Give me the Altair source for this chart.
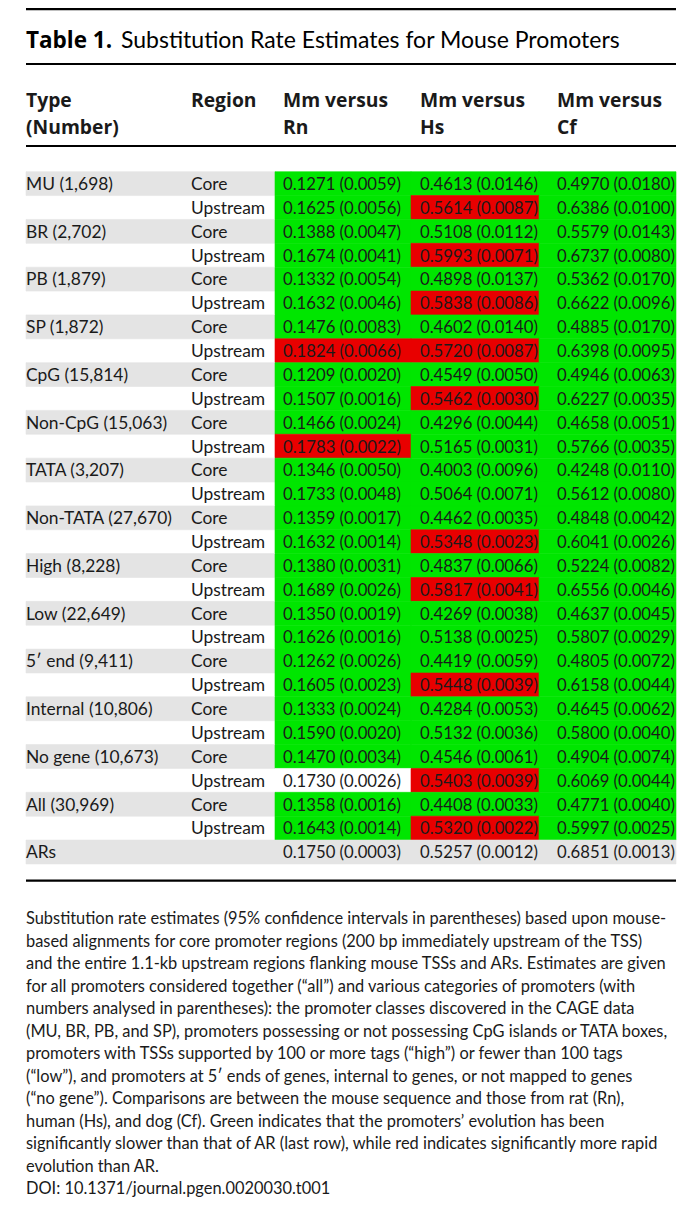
import altair as alt
import pandas as pd

# ---------------- data ----------------
types = ["MU (1,698)", "BR (2,702)", "PB (1,879)", "SP (1,872)", "CpG (15,814)",
         "Non-CpG (15,063)", "TATA (3,207)", "Non-TATA (27,670)", "High (8,228)",
         "Low (22,649)", "5\u2032 end (9,411)", "Internal (10,806)",
         "No gene (10,673)", "All (30,969)"]
regions = ["Core", "Upstream"]
last_row = "ARs"

rn_est = [0.1271, 0.1625, 0.1388, 0.1674, 0.1332, 0.1632, 0.1476, 0.1824, 0.1209, 0.1507,
          0.1466, 0.1783, 0.1346, 0.1733, 0.1359, 0.1632, 0.1380, 0.1689, 0.1350, 0.1626,
          0.1262, 0.1605, 0.1333, 0.1590, 0.1470, 0.1730, 0.1358, 0.1643, 0.1750]
rn_ci = [0.0059, 0.0056, 0.0047, 0.0041, 0.0054, 0.0046, 0.0083, 0.0066, 0.0020, 0.0016,
         0.0024, 0.0022, 0.0050, 0.0048, 0.0017, 0.0014, 0.0031, 0.0026, 0.0019, 0.0016,
         0.0026, 0.0023, 0.0024, 0.0020, 0.0034, 0.0026, 0.0016, 0.0014, 0.0003]
hs_est = [0.4613, 0.5614, 0.5108, 0.5993, 0.4898, 0.5838, 0.4602, 0.5720, 0.4549, 0.5462,
          0.4296, 0.5165, 0.4003, 0.5064, 0.4462, 0.5348, 0.4837, 0.5817, 0.4269, 0.5138,
          0.4419, 0.5448, 0.4284, 0.5132, 0.4546, 0.5403, 0.4408, 0.5320, 0.5257]
hs_ci = [0.0146, 0.0087, 0.0112, 0.0071, 0.0137, 0.0086, 0.0140, 0.0087, 0.0050, 0.0030,
         0.0044, 0.0031, 0.0096, 0.0071, 0.0035, 0.0023, 0.0066, 0.0041, 0.0038, 0.0025,
         0.0059, 0.0039, 0.0053, 0.0036, 0.0061, 0.0039, 0.0033, 0.0022, 0.0012]
cf_est = [0.4970, 0.6386, 0.5579, 0.6737, 0.5362, 0.6622, 0.4885, 0.6398, 0.4946, 0.6227,
          0.4658, 0.5766, 0.4248, 0.5612, 0.4848, 0.6041, 0.5224, 0.6556, 0.4637, 0.5807,
          0.4805, 0.6158, 0.4645, 0.5800, 0.4904, 0.6069, 0.4771, 0.5997, 0.6851]
cf_ci = [0.0180, 0.0100, 0.0143, 0.0080, 0.0170, 0.0096, 0.0170, 0.0095, 0.0063, 0.0035,
         0.0051, 0.0035, 0.0110, 0.0080, 0.0042, 0.0026, 0.0082, 0.0046, 0.0045, 0.0029,
         0.0072, 0.0044, 0.0062, 0.0040, 0.0074, 0.0044, 0.0040, 0.0025, 0.0013]

# significance vs AR: g = slower (green), r = faster (red), w = not significant, n = reference row
rn_sig = list("gggggggrgggrgggggggggggggwgg") + ["n"]
hs_sig = list("grgrgrgrgrggggg" "rgrgggrgggrgr") + ["n"]
cf_sig = list("gggggggggggggggggggggggggggg") + ["n"]

title_bold = "Table 1."
title_text = "Substitution Rate Estimates for Mouse Promoters"
header_line1 = ["Type", "Region", "Mm versus", "Mm versus", "Mm versus"]
header_line2 = ["(Number)", "", "Rn", "Hs", "Cf"]

footnote = [
    "Substitution rate estimates (95% confidence intervals in parentheses) based upon mouse-",
    "based alignments for core promoter regions (200 bp immediately upstream of the TSS)",
    "and the entire 1.1-kb upstream regions flanking mouse TSSs and ARs. Estimates are given",
    "for all promoters considered together (\u201call\u201d) and various categories of promoters (with",
    "numbers analysed in parentheses): the promoter classes discovered in the CAGE data",
    "(MU, BR, PB, and SP), promoters possessing or not possessing CpG islands or TATA boxes,",
    "promoters with TSSs supported by 100 or more tags (\u201chigh\u201d) or fewer than 100 tags",
    "(\u201clow\u201d), and promoters at 5\u2032 ends of genes, internal to genes, or not mapped to genes",
    "(\u201cno gene\u201d). Comparisons are between the mouse sequence and those from rat (Rn),",
    "human (Hs), and dog (Cf). Green indicates that the promoters\u2019 evolution has been",
    "significantly slower than that of AR (last row), while red indicates significantly more rapid",
    "evolution than AR.",
    "DOI: 10.1371/journal.pgen.0020030.t001",
]

# ---------------- layout / style ----------------
FONT = "Lato"
BOLD_FONT = "Open Sans"
TXT = "#1a1a1a"
W, H = 680, 1190
n_rows = len(types) * 2 + 1

edge_scale = alt.Scale(domain=[0, 1, 2, 3, 4], range=[18, 267, 403, 531, 668], nice=False, zero=False)
col_scale = alt.Scale(domain=[0, 1, 2, 3, 4], range=[18, 183, 275, 412, 549], nice=False, zero=False)
row_text_scale = alt.Scale(domain=[0, n_rows - 1], range=[182, 850.3], nice=False, zero=False)
row_edge_scale = alt.Scale(domain=[0, n_rows], range=[163.7, 163.7 + n_rows * 23.87], nice=False, zero=False)

# ---------------- build tables ----------------
def fmt(e, c):
    return f"{e:.4f} ({c:.4f})"

cells = []
rects = []
for i in range(n_rows):
    if i < n_rows - 1:
        t = types[i // 2] if i % 2 == 0 else ""
        reg = regions[i % 2]
    else:
        t, reg = last_row, ""
    vals = [fmt(rn_est[i], rn_ci[i]), fmt(hs_est[i], hs_ci[i]), fmt(cf_est[i], cf_ci[i])]
    for c, s in enumerate([t, reg] + vals):
        if s:
            cells.append({"row": i, "col": c, "label": s, "kind": "label" if c < 2 else "num"})
    if i == n_rows - 1:
        rects.append({"r0": i, "r1": i + 1, "c0": 0, "c1": 4, "kind": "gray"})
    else:
        if i % 2 == 0:
            rects.append({"r0": i, "r1": i + 1, "c0": 0, "c1": 1, "kind": "gray"})
        for c, sig in enumerate([rn_sig[i], hs_sig[i], cf_sig[i]]):
            kind = {"g": "green", "r": "red", "w": "white"}[sig]
            rects.append({"r0": i, "r1": i + 1, "c0": c + 1, "c1": c + 2, "kind": kind})

cells_df = pd.DataFrame(cells)
rects_df = pd.DataFrame(rects)

color_scale = alt.Scale(domain=["gray", "green", "red", "white"],
                        range=["#e4e4e4", "#00e600", "#e80000", "#ffffff"])

bg = alt.Chart(rects_df).mark_rect(strokeWidth=0.6).encode(
    x=alt.X("c0:Q", scale=edge_scale, axis=None),
    x2="c1:Q",
    y=alt.Y("r0:Q", scale=row_edge_scale, axis=None),
    y2="r1:Q",
    fill=alt.Fill("kind:N", scale=color_scale, legend=None),
    stroke=alt.Stroke("kind:N", scale=color_scale, legend=None),
)

def body_layer(kind, size):
    return alt.Chart(cells_df).transform_filter(alt.datum.kind == kind).mark_text(
        align="left", baseline="alphabetic", font=FONT, fontSize=size, color=TXT
    ).encode(
        x=alt.X("col:Q", scale=col_scale, axis=None),
        y=alt.Y("row:Q", scale=row_text_scale, axis=None),
        text="label:N",
    )

body_labels = body_layer("label", 17.4)
body_nums = body_layer("num", 16.7)

# header
hdr = []
for c, s in enumerate(header_line1):
    hdr.append({"line": 0, "col": c, "label": s})
for c, s in enumerate(header_line2):
    if s:
        hdr.append({"line": 1, "col": c, "label": s})
header = alt.Chart(pd.DataFrame(hdr)).mark_text(
    align="left", baseline="alphabetic", font=BOLD_FONT, fontSize=19.3, fontWeight="bold", color=TXT
).encode(
    x=alt.X("col:Q", scale=col_scale, axis=None),
    y=alt.Y("line:Q", scale=alt.Scale(domain=[0, 1], range=[99.3, 125.8], nice=False, zero=False), axis=None),
    text="label:N",
)

# title
title_scale_x = alt.Scale(domain=[0, 1], range=[18, 113], nice=False, zero=False)
title_scale_y = alt.Scale(domain=[0, 1], range=[39.7, 60], nice=False, zero=False)
t_bold = alt.Chart(pd.DataFrame([{"p": 0, "line": 0, "label": title_bold}])).mark_text(
    align="left", baseline="alphabetic", font=BOLD_FONT, fontSize=22.5, fontWeight="bold", color="#000"
).encode(
    x=alt.X("p:Q", scale=title_scale_x, axis=None),
    y=alt.Y("line:Q", scale=title_scale_y, axis=None),
    text="label:N",
)
t_reg = alt.Chart(pd.DataFrame([{"p": 1, "line": 0, "label": title_text}])).mark_text(
    align="left", baseline="alphabetic", font=FONT, fontSize=23, color="#000"
).encode(
    x=alt.X("p:Q", scale=title_scale_x, axis=None),
    y=alt.Y("line:Q", scale=title_scale_y, axis=None),
    text="label:N",
)

# horizontal rules
rules_df = pd.DataFrame({"idx": [0, 1, 2, 3], "left": [0] * 4, "right": [4] * 4})
rules = alt.Chart(rules_df).mark_rule(color="#000", strokeWidth=2.2).encode(
    x=alt.X("left:Q", scale=edge_scale, axis=None),
    x2="right:Q",
    y=alt.Y("idx:Q", scale=alt.Scale(domain=[0, 1, 2, 3], range=[1.2, 56, 138, 872.7], nice=False, zero=False), axis=None),
)

# footnote
foot_df = pd.DataFrame({"line": list(range(len(footnote))), "p": [0] * len(footnote), "label": footnote})
foot = alt.Chart(foot_df).mark_text(
    align="left", baseline="alphabetic", font=FONT, fontSize=16.4, color=TXT
).encode(
    x=alt.X("p:Q", scale=alt.Scale(domain=[0, 1], range=[18, 668], nice=False, zero=False), axis=None),
    y=alt.Y("line:Q", scale=alt.Scale(domain=[0, len(footnote) - 1],
                                      range=[916, 916 + (len(footnote) - 1) * 22.5], nice=False, zero=False), axis=None),
    text="label:N",
)

chart = alt.layer(bg, body_labels, body_nums, header, t_bold, t_reg, rules, foot).resolve_scale(
    x="independent", y="independent", fill="independent", stroke="independent"
).properties(
    width=W, height=H, autosize=alt.AutoSizeParams(type="none"), padding=0,
    background="white",
).configure_view(stroke=None)

chart.save("out.html", embed_options={"renderer": "svg", "actions": False})
